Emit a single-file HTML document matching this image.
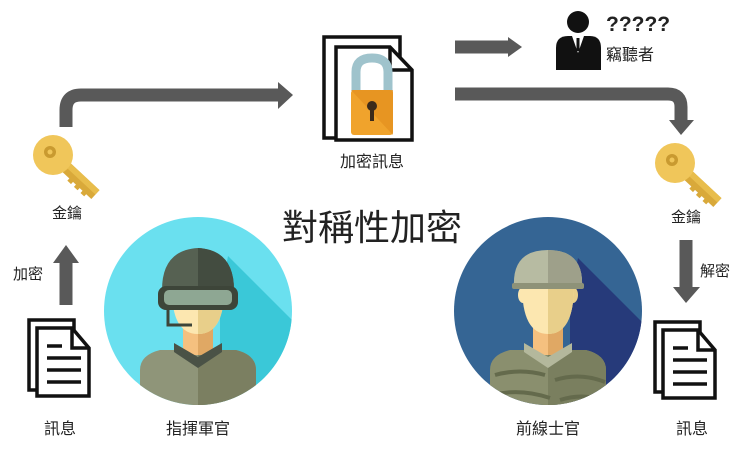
<!DOCTYPE html>
<html><head><meta charset="utf-8"><style>
html,body{margin:0;padding:0;background:#fff;}
svg{display:block;}
text{font-family:"Liberation Sans","Noto Sans CJK TC",sans-serif;fill:#222;}
</style></head><body>
<svg width="750" height="451" viewBox="0 0 750 451" xmlns="http://www.w3.org/2000/svg">
<defs>
<g id="key">
  <g transform="rotate(43)">
    <rect x="0" y="-6" width="58" height="12" fill="#d9a93a"/>
    <rect x="0" y="-6" width="58" height="6" fill="#e8bd4c"/>
    <rect x="28" y="4" width="5" height="5" fill="#d9a93a"/>
    <rect x="37" y="4" width="5" height="5" fill="#d9a93a"/>
    <rect x="46" y="4" width="5" height="5" fill="#d9a93a"/>
  </g>
  <circle r="20" fill="#f0c65a"/>
  <circle cx="-3" cy="-3" r="6" fill="#c99a30"/>
  <circle cx="-3" cy="-3" r="2.5" fill="#f0c65a"/>
</g>
<g id="doc">
  <path d="M0 0 H45 V55 H12 V70 H0 Z" fill="#fff" stroke="#111" stroke-width="3.5"/>
  <path d="M8 8 H43 L60 28 V76 H8 Z" fill="#fff" stroke="#111" stroke-width="3.5"/>
  <path d="M43 8 V28 H60" fill="none" stroke="#111" stroke-width="3.5"/>
  <g stroke="#111" stroke-width="3.5">
    <line x1="18" y1="26" x2="33" y2="26"/>
    <line x1="18" y1="38" x2="52" y2="38"/>
    <line x1="18" y1="50" x2="52" y2="50"/>
    <line x1="18" y1="62" x2="52" y2="62"/>
  </g>
</g>
<clipPath id="c1"><circle cx="198" cy="311" r="94"/></clipPath>
<clipPath id="c2"><circle cx="548" cy="311" r="94"/></clipPath>
</defs>

<g fill="none" stroke="#595959" stroke-width="13">
  <path d="M66 127 V110 Q66 95 81 95 H280"/>
  <path d="M455 47 H510"/>
  <path d="M455 94 H668 Q681 94 681 107 V122"/>
  <path d="M66 305 V262"/>
  <path d="M686 240 V288"/>
</g>
<g fill="#595959">
  <path d="M278 82 L293 95 L278 109 Z"/>
  <path d="M508 37 L522 47 L508 57 Z"/>
  <path d="M669 120 L694 120 L681 135 Z"/>
  <path d="M53 263 L79 263 L66 245 Z"/>
  <path d="M673 287 L700 287 L686 303 Z"/>
</g>

<use href="#key" x="53" y="155"/>
<use href="#key" x="675" y="163"/>
<text x="67" y="218" font-size="15" text-anchor="middle">金鑰</text>
<text x="686" y="222" font-size="15" text-anchor="middle">金鑰</text>
<text x="13" y="279" font-size="15">加密</text>
<text x="700" y="276" font-size="15">解密</text>

<use href="#doc" x="29" y="320"/>
<use href="#doc" x="655" y="322"/>
<text x="60" y="434" font-size="16" text-anchor="middle">訊息</text>
<text x="692" y="434" font-size="16" text-anchor="middle">訊息</text>

<g>
  <path d="M324 37 H400 V128 H340 V138 H324 Z" fill="#fff" stroke="#111" stroke-width="3.5"/>
  <path d="M336 47 H390 L412 70 V140 H336 Z" fill="#fff" stroke="#111" stroke-width="3.5"/>
  <path d="M390 47 V70 H412" fill="none" stroke="#111" stroke-width="3.5"/>
  <path d="M356 93 V72 Q356 58 372 58 Q388 58 388 72 V93" fill="none" stroke="#9fc3cc" stroke-width="9"/>
  <rect x="351" y="90" width="42" height="45" rx="3" fill="#f0a32c"/>
  <path d="M351 90 H393 V135 Z" fill="#e38f1e" opacity="0.7"/>
  <circle cx="372" cy="106" r="5" fill="#3b2a1a"/>
  <rect x="370" y="106" width="4" height="15" fill="#3b2a1a"/>
</g>
<text x="372" y="167" font-size="16" text-anchor="middle">加密訊息</text>

<g fill="#111">
  <circle cx="578" cy="22" r="11"/>
  <path d="M556 70 V48 Q556 36 568 36 H590 Q601 36 601 48 V70 Z"/>
</g>
<path d="M572 36 L578 53 L584 36 Z" fill="#fff"/>
<rect x="576.5" y="38" width="3" height="13" fill="#111"/>
<text x="606" y="31" font-size="21" font-weight="bold">?????</text>
<text x="606" y="60" font-size="16">竊聽者</text>

<text x="372" y="240" font-size="36" text-anchor="middle">對稱性加密</text>

<circle cx="198" cy="311" r="94" fill="#6ae0ef"/>
<g clip-path="url(#c1)">
  <path d="M228 256 L300 328 L300 420 L220 420 L220 300 Z" fill="#3ac8d8"/>
  <path d="M140 370 Q140 355 160 350 L236 350 Q256 355 256 370 V420 H140 Z" fill="#8f9579"/>
  <path d="M198 350 H236 Q256 355 256 370 V420 H198 Z" fill="#7b7f61"/>
  <rect x="183" y="325" width="30" height="30" fill="#f5c07f"/>
  <rect x="198" y="325" width="15" height="30" fill="#e0a864"/>
  <path d="M174 343 L198 357 L222 343 L222 352 L198 368 L174 352 Z" fill="#4a5246"/>
  <path d="M172 290 Q172 334 198 334 Q224 334 224 290 Z" fill="#fce7b0"/>
  <path d="M198 290 H224 Q224 334 198 334 Z" fill="#e8cf8a"/>
  <path d="M162 290 Q162 250 198 248 Q234 250 234 290 Z" fill="#566152"/>
  <path d="M198 248 Q234 250 234 290 H198 Z" fill="#434c40"/>
  <rect x="158" y="286" width="80" height="24" rx="8" fill="#3d4539"/>
  <rect x="164" y="290" width="68" height="15" rx="5" fill="#8ea793"/>
  <path d="M168 310 V325 H192" fill="none" stroke="#3d4539" stroke-width="3"/>
</g>
<text x="198" y="434" font-size="16" text-anchor="middle">指揮軍官</text>

<circle cx="548" cy="311" r="94" fill="#356594"/>
<g clip-path="url(#c2)">
  <path d="M578 258 L650 330 L650 420 L570 420 L570 300 Z" fill="#263a7a"/>
  <path d="M490 370 Q490 355 510 350 L586 350 Q606 355 606 370 V420 H490 Z" fill="#8a8f6e"/>
  <path d="M548 350 H586 Q606 355 606 370 V420 H548 Z" fill="#7a7f5f"/>
  <path d="M495 375 Q520 368 545 375 M555 380 Q580 372 605 382 M492 395 Q520 388 550 398 M560 400 Q585 392 606 402" stroke="#646a4c" stroke-width="4" fill="none"/>
  <rect x="533" y="325" width="30" height="30" fill="#f5c07f"/>
  <rect x="548" y="325" width="15" height="30" fill="#e0a864"/>
  <path d="M524 343 L548 357 L572 343 L572 352 L548 368 L524 352 Z" fill="#b4b89c"/>
  <ellipse cx="523" cy="295" rx="5" ry="8" fill="#fce7b0"/>
  <ellipse cx="573" cy="295" rx="5" ry="8" fill="#e8cf8a"/>
  <path d="M522 285 Q522 334 548 334 Q574 334 574 285 Z" fill="#fce7b0"/>
  <path d="M548 285 H574 Q574 334 548 334 Z" fill="#e8cf8a"/>
  <path d="M514 287 Q512 250 548 250 Q584 250 582 287 Z" fill="#b7bba2"/>
  <path d="M548 250 Q584 250 582 287 H548 Z" fill="#9ea08a"/>
  <rect x="512" y="283" width="72" height="6" rx="2" fill="#8e9278"/>
</g>
<text x="548" y="434" font-size="16" text-anchor="middle">前線士官</text>
</svg>
</body></html>
